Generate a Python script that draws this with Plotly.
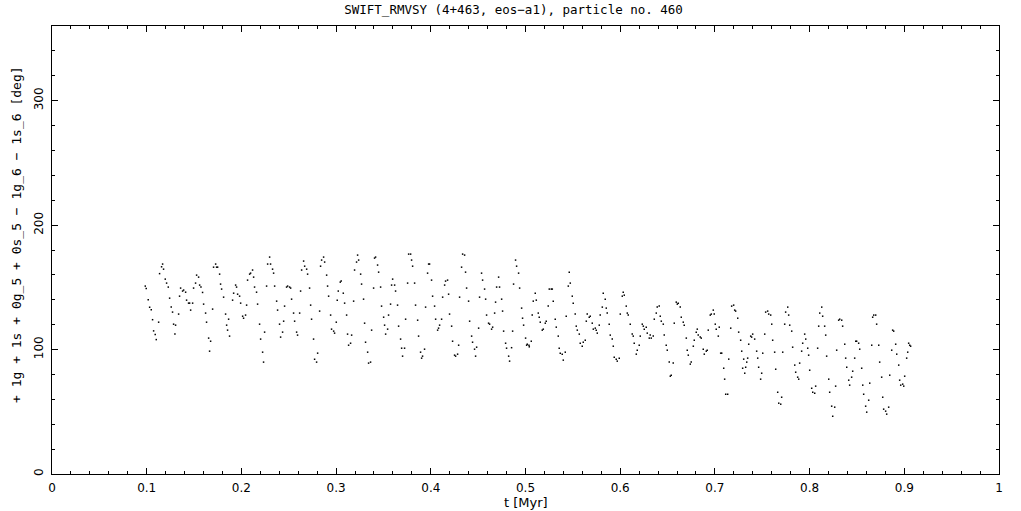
import plotly.graph_objects as go

# time [Myr]
t = [
0.0985,0.0995,0.1016,0.1031,0.1048,0.1062,0.1073,0.1090,0.1101,0.1126,0.1136,0.1157,0.1168,0.1178,0.1196,0.1210,0.1228,0.1242,0.1259,0.1273,
0.1284,0.1298,0.1305,0.1337,0.1347,0.1358,0.1379,0.1390,0.1411,0.1421,0.1442,0.1453,0.1464,0.1485,0.1495,0.1516,0.1527,0.1548,0.1559,0.1573,
0.1590,0.1601,0.1622,0.1632,0.1654,0.1664,0.1675,0.1696,0.1706,0.1728,0.1738,0.1749,0.1770,0.1780,0.1791,0.1812,0.1833,0.1844,0.1854,0.1865,
0.1875,0.1907,0.1918,0.1939,0.1949,0.1960,0.1981,0.1992,0.2013,0.2023,0.2044,0.2055,0.2065,0.2087,0.2097,0.2118,0.2129,0.2139,0.2160,0.2171,
0.2192,0.2203,0.2224,0.2234,0.2245,0.2266,0.2277,0.2298,0.2308,0.2329,0.2340,0.2351,0.2372,0.2382,0.2403,0.2414,0.2435,0.2446,0.2456,0.2477,
0.2488,0.2509,0.2520,0.2530,0.2551,0.2562,0.2583,0.2593,0.2615,0.2625,0.2636,0.2657,0.2668,0.2689,0.2699,0.2720,0.2731,0.2741,0.2762,0.2773,
0.2794,0.2805,0.2826,0.2836,0.2847,0.2868,0.2879,0.2900,0.2910,0.2921,0.2942,0.2952,0.2974,0.2984,
0.3002,0.3012,0.3023,0.3044,0.3054,0.3076,0.3090,0.3111,0.3121,0.3132,0.3153,0.3164,0.3185,0.3195,0.3216,0.3227,0.3238,0.3259,0.3269,0.3290,
0.3301,0.3311,0.3333,0.3343,0.3364,0.3375,0.3396,0.3406,0.3417,0.3438,0.3449,0.3470,0.3480,0.3502,0.3512,0.3523,0.3544,0.3554,0.3575,0.3586,
0.3597,0.3618,0.3628,0.3649,0.3660,0.3681,0.3692,0.3702,0.3723,0.3734,0.3755,0.3766,0.3787,0.3797,0.3808,0.3829,0.3839,0.3861,0.3871,0.3892,
0.3903,0.3913,0.3934,0.3945,0.3966,0.3977,0.3987,0.4008,0.4019,0.4040,0.4051,0.4072,0.4082,0.4093,0.4114,0.4125,0.4146,0.4156,0.4177,0.4188,
0.4198,0.4220,0.4230,0.4251,0.4262,0.4283,0.4294,0.4304,0.4325,0.4336,0.4357,0.4367,0.4378,0.4399,0.4410,0.4431,0.4441,0.4462,0.4473,0.4484,
0.4505,0.4515,0.4536,0.4547,0.4568,0.4579,0.4589,0.4610,0.4621,0.4642,0.4653,0.4674,0.4684,0.4695,0.4716,0.4726,0.4748,0.4758,0.4769,0.4790,
0.4800,0.4822,0.4832,0.4853,0.4864,0.4874,0.4895,0.4906,0.4927,0.4938,0.4959,0.4969,0.4980,0.5001,0.5012,
0.5019,0.5037,0.5040,0.5061,0.5071,0.5082,0.5103,0.5114,0.5135,0.5145,0.5156,0.5177,0.5188,0.5209,0.5219,0.5240,0.5251,0.5272,0.5283,0.5293,
0.5314,0.5325,0.5346,0.5356,0.5367,0.5388,0.5399,0.5420,0.5430,0.5452,0.5462,0.5473,0.5494,0.5504,0.5525,0.5536,0.5547,0.5568,0.5578,0.5599,
0.5610,0.5631,0.5642,0.5652,0.5673,0.5684,0.5705,0.5716,0.5737,0.5747,0.5758,0.5779,0.5789,0.5811,0.5821,0.5842,0.5853,0.5863,0.5884,0.5895,
0.5916,0.5927,0.5937,0.5958,0.5969,0.5990,0.6001,0.6022,0.6032,0.6043,0.6064,0.6075,0.6085,0.6106,0.6127,0.6138,0.6148,0.6170,0.6180,0.6201,
0.6212,0.6233,0.6244,0.6254,0.6275,0.6286,0.6307,0.6317,0.6328,0.6349,0.6360,0.6381,0.6391,0.6412,0.6423,0.6434,0.6455,0.6465,0.6486,0.6497,
0.6518,0.6529,0.6539,0.6560,0.6571,0.6592,0.6603,0.6613,0.6634,0.6645,0.6666,0.6676,0.6698,0.6708,0.6719,0.6740,0.6750,0.6772,0.6782,0.6803,
0.6814,0.6824,0.6845,0.6856,0.6877,0.6888,0.6909,0.6919,0.6930,0.6951,0.6962,0.6983,0.6993,0.7004,0.7014,0.7036,0.7046,
0.7061,0.7072,0.7093,0.7103,0.7114,0.7135,0.7146,0.7167,0.7177,0.7198,0.7209,0.7219,0.7241,0.7251,0.7272,0.7283,0.7293,0.7304,0.7315,0.7325,
0.7336,0.7346,0.7357,0.7378,0.7388,0.7399,0.7420,0.7441,0.7452,0.7462,0.7483,0.7494,0.7505,0.7526,0.7536,0.7557,0.7568,0.7589,0.7600,0.7610,
0.7631,0.7642,0.7663,0.7674,0.7695,0.7705,0.7716,0.7737,0.7747,0.7769,0.7779,0.7790,0.7811,0.7821,0.7843,0.7853,0.7874,0.7885,0.7895,0.7916,
0.7927,0.7948,0.7959,0.7980,0.7990,0.8001,0.8022,0.8033,0.8054,0.8064,0.8085,0.8096,0.8107,0.8128,0.8138,0.8159,0.8170,0.8180,0.8202,0.8212,
0.8233,0.8244,0.8265,0.8275,0.8286,0.8307,0.8318,0.8339,0.8349,0.8371,0.8381,0.8392,0.8413,0.8423,0.8444,0.8455,0.8476,0.8487,0.8497,0.8518,
0.8529,0.8550,0.8561,0.8571,0.8592,0.8603,0.8624,0.8635,0.8656,0.8666,0.8677,0.8698,0.8708,0.8730,0.8740,0.8761,0.8772,0.8782,0.8803,0.8814,
0.8835,0.8846,0.8867,0.8877,0.8888,0.8909,0.8920,0.8941,0.8951,0.8962,0.8983,0.8994,0.9004,0.9025,0.9036,0.9046,0.9057,0.9067,
]

# resonant angle [deg]
angle = [
151,149,140,134,132,124,115,112,108,122,161,166.5,168.7,164.6,156.6,153.4,150.2,141.3,134.1,130.1,
120.4,112.4,119.6,128.5,142.9,149.4,147.0,147.8,146.1,139.7,137.3,137.3,131.7,137.3,149.4,153.4,159.8,158.2,151.8,150.2,
145.9,136.5,129.3,122.0,109.2,98.7,106.7,132.5,166.2,168.7,166.2,166.2,160.6,152.6,148.6,142.1,128.5,119.6,115.6,124.4,
110.8,139.7,145.3,151.8,150.2,144.5,142.9,137.3,126.8,125.2,127.7,135.7,155.8,160.6,161.4,163.9,158.2,150.2,146.1,136.5,
120.4,108.4,97.9,89.9,114.0,151.0,168.7,174.3,168.7,164.6,161.4,151.0,138.9,131.7,120.4,110.0,114.0,122.8,134.9,150.2,
151.0,150.2,149.4,140.5,129.3,122.8,114.0,111.6,129.3,147.0,163.9,171.1,167.0,164.6,160.6,149.4,135.7,124.4,108.4,92.2,
89.9,97.1,130.9,167.0,171.9,174.3,170.3,159.8,151.0,142.9,127.7,116.4,114.8,113.2,
122.0,139.7,147.0,154.2,155.0,145.3,137.3,127.7,112.4,103.5,105.1,111.6,138.9,163.9,170.3,175.9,171.9,160.6,152.6,140.5,
121.2,105.9,97.9,89.1,89.9,115.6,149.4,173.5,174.3,167.9,162.2,150.2,134.9,126.0,119.6,112.4,116.4,127.7,136.5,151.8,
156.6,151.8,147.0,135.7,118.8,108.4,101.1,94.7,101.1,124.4,153.4,176.7,176.7,171.9,167.0,153.4,135.7,123.6,110.8,97.9,
93.1,94.7,100.3,134.1,161.4,168.7,168.7,155.8,142.9,134.9,124.4,115.6,117.2,119.6,124.4,142.1,151.8,155.0,155.8,144.5,
128.5,118.8,106.7,95.5,94.7,96.3,103.5,142.1,166.2,176.7,175.9,162.2,149.4,138.9,122.8,110.8,105.9,100.3,94.7,101.9,
117.2,142.1,161.4,155.8,148.6,140.5,127.7,121.2,120.4,116.4,118.0,129.3,138.1,150.2,158.2,150.2,140.5,130.9,114.8,105.1,
101.1,94.7,90.7,101.5,114.8,152.6,171.9,167.0,161.4,149.4,133.3,125.2,119.6,109.2,103.5,
104.3,103.5,102.2,106.7,127.7,138.9,145.3,139.7,129.3,126.0,122.0,115.6,116.4,121.2,122.8,134.9,148.6,148.6,148.6,138.9,
124.4,118.0,110.8,101.1,97.1,96.3,91.5,97.9,126.8,151.0,162.2,153.4,142.9,137.3,128.5,118.8,115.6,112.4,105.1,102.7,
105.9,107.5,122.8,128.5,126.0,126.8,121.2,116.4,117.2,115.6,113.2,119.6,127.7,134.1,145.3,140.5,133.3,129.3,120.4,111.6,
108.4,102.7,93.9,92.3,90.7,93.1,128.5,142.9,146.1,143.7,134.9,129.3,127.7,120.4,112.4,110.8,105.1,96.3,99.5,103.5,
110.8,120.4,118.8,116.4,118.0,113.2,109.2,111.6,109.2,110.8,124.4,129.3,134.1,134.9,126.8,122.8,120.4,111.6,103.5,99.5,
89.9,78.6,79.4,89.1,121.2,138.1,136.5,137.3,134.1,126.0,122.0,119.6,109.2,99.5,95.5,88.3,89.9,102.7,107.5,114.0,
116.4,111.6,110.0,109.2,100.3,96.3,98.7,99.5,115.6,127.7,128.5,131.7,128.5,120.4,116.4,110.8,118.0,97.1,
97.1,85.0,76.2,64.1,64.1,92.3,117.2,134.9,135.7,131.7,130.9,125.2,114.0,107.5,98.7,85.0,92.3,81.0,85.8,89.9,
93.1,104.3,110.8,110.0,112.4,108.4,98.7,93.1,85.8,76.2,81.0,97.1,112.4,130.1,130.9,128.5,127.7,120.4,107.5,97.9,
84.2,65.7,56.9,56.1,61.7,97.9,120.4,130.1,134.1,127.7,119.6,114.8,101.9,87.5,81.8,77.8,76.2,89.1,98.7,105.1,
112.4,108.4,101.1,95.5,83.4,68.9,65.7,64.9,70.6,101.1,118.8,129.3,134.1,126.8,118.8,111.6,94.7,76.2,65.7,54.5,
46.4,53.7,70.6,99.5,123.6,124.4,123.6,118.8,104.3,93.1,85.8,75.4,71.4,77.8,82.6,93.1,106.7,106.7,105.1,100.3,
85.0,71.4,64.1,54.5,49.7,59.3,73.0,103.5,126.0,127.7,127.7,120.4,103.5,89.9,77.8,61.7,52.1,50.5,48.1,53.7,
79.4,99.5,115.6,114.8,104.3,96.3,87.5,75.4,71.4,72.2,70.6,78.6,93.1,97.9,105.1,103.5,102.7,89.1,
]

x_ticks = [0, 0.1, 0.2, 0.3, 0.4, 0.5, 0.6, 0.7, 0.8, 0.9, 1]
y_ticks = [0, 100, 200, 300]

FONT = "DejaVu Sans"
MONO = "DejaVu Sans Mono"

fig = go.Figure()
fig.add_trace(go.Scatter(
    x=t, y=angle, mode="markers",
    marker=dict(symbol="square", size=1.5, color="black", line=dict(width=0)),
    hoverinfo="skip", showlegend=False,
))

axis_common = dict(
    showline=True, linecolor="black", linewidth=1, mirror="allticks",
    ticks="inside", ticklen=6, tickwidth=1, tickcolor="black",
    showgrid=False, zeroline=False, automargin=False,
    tickfont=dict(family=FONT, size=12, color="black"),
)

fig.update_xaxes(
    range=[0, 1], tickvals=x_ticks, ticktext=[str(v) for v in x_ticks],
    minor=dict(ticks="inside", ticklen=3, dtick=0.02, tickcolor="black", showgrid=False),
    ticklabelstandoff=3,
    **axis_common,
)
fig.update_yaxes(
    range=[0, 360], tickvals=y_ticks, ticktext=[str(v) for v in y_ticks], tickangle=-90,
    minor=dict(ticks="inside", ticklen=3, dtick=20, tickcolor="black", showgrid=False),
    ticklabelstandoff=3,
    **axis_common,
)

fig.update_layout(
    width=1021, height=511,
    margin=dict(l=52, r=22, t=26, b=37),
    paper_bgcolor="white", plot_bgcolor="white",
    title=dict(text="SWIFT_RMVSY (4+463, eos−a1), particle no. 460",
               x=0.503, xref="container", y=1 - 10 / 511, yref="container", yanchor="middle",
               font=dict(family=MONO, size=12.5, color="black")),
    annotations=[
        dict(text="t [Myr]", xref="paper", yref="paper", x=0.5, y=-28 / 448,
             xanchor="center", yanchor="middle", showarrow=False,
             font=dict(family=FONT, size=13, color="black")),
        dict(text="+ 1g + 1s + 0g_5 + 0s_5 − 1g_6 − 1s_6 [deg]", xref="paper", yref="paper",
             x=-35 / 947, y=239 / 448, textangle=-90,
             xanchor="center", yanchor="middle", showarrow=False,
             font=dict(family=MONO, size=13, color="black")),
    ],
)

fig.write_html("out.html", config={"displayModeBar": False},
               post_script="document.body.style.margin='0';")
